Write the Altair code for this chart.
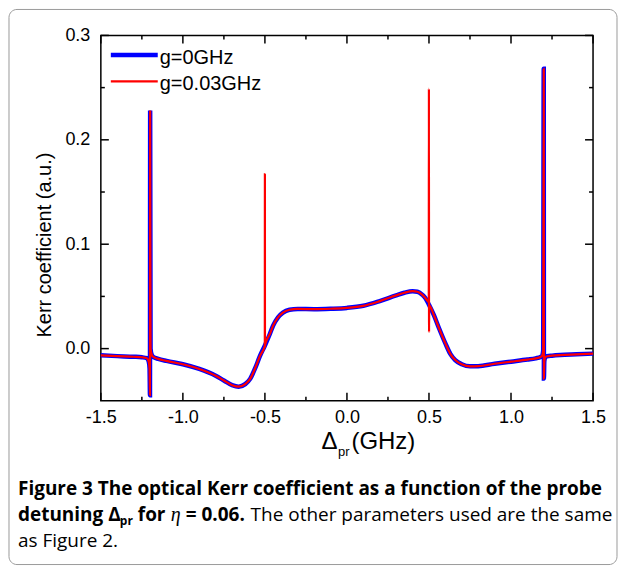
import altair as alt
import pandas as pd

# ---- data ----
# g = 0 GHz curve (Kerr coefficient vs probe detuning, GHz)
base_x = [-1.5, -1.4, -1.3, -1.25, -1.22, -1.208, -1.203, -1.2005, -1.1995, -1.197,
          -1.19, -1.18, -1.15, -1.1, -1.0, -0.9, -0.8, -0.75, -0.7, -0.66, -0.62,
          -0.59, -0.56, -0.53, -0.5, -0.47, -0.45, -0.42, -0.39, -0.35, -0.3, -0.2,
          -0.1, 0.0, 0.1, 0.2, 0.3, 0.35, 0.4, 0.43, 0.46, 0.48, 0.5, 0.53, 0.56,
          0.6, 0.63, 0.66, 0.7, 0.75, 0.8, 0.9, 1.0, 1.1, 1.15, 1.18, 1.19, 1.196,
          1.1995, 1.2005, 1.203, 1.21, 1.22, 1.25, 1.3, 1.4, 1.5]
base_y = [-0.0064, -0.0072, -0.0078, -0.0083, -0.0092, -0.0125, -0.019, -0.0446, 0.228, 0.0,
          -0.006, -0.008, -0.0098, -0.0118, -0.015, -0.0195, -0.026, -0.0305, -0.035, -0.0365, -0.034,
          -0.029, -0.019, -0.007, 0.003, 0.014, 0.022, 0.030, 0.0345, 0.0372, 0.0380, 0.0378,
          0.0382, 0.039, 0.041, 0.0455, 0.051, 0.0535, 0.055, 0.0545, 0.0515, 0.048, 0.042, 0.032, 0.020,
          0.005, -0.005, -0.011, -0.015, -0.017, -0.0168, -0.0145, -0.0125, -0.0105, -0.0093, -0.0080, -0.0068, -0.002,
          0.268, -0.0287, -0.012, -0.0080, -0.0073, -0.0068, -0.0062, -0.0055, -0.0048]

# extra narrow resonances that appear only for g = 0.03 GHz
red_extra_x = [-0.5006, -0.5001, -0.4996, -0.4990, 0.4988, 0.4996, 0.5004, 0.5014]
red_extra_y = [0.0028, 0.167, 0.0015, 0.0035, 0.0445, 0.249, 0.016, 0.0415]
red_centres = [-0.5, 0.5]

series_names = ["g=0GHz", "g=0.03GHz"]
series_colors = ["#0000ff", "#ff0000"]

x_major = [-1.5, -1.0, -0.5, 0.0, 0.5, 1.0, 1.5]
x_minor = [-1.25, -0.75, -0.25, 0.25, 0.75, 1.25]
y_major = [0.0, 0.1, 0.2, 0.3]
y_minor = [0.05, 0.15, 0.25]

# ---- tables ----
blue_df = pd.DataFrame({"x": base_x, "y": base_y})
keep = [(bx, by) for bx, by in zip(base_x, base_y)
        if all(abs(bx - c) > 0.003 for c in red_centres)]
red_pts = keep + list(zip(red_extra_x, red_extra_y))
red_df = pd.DataFrame(red_pts, columns=["x", "y"]).sort_values("x")

W, H = 493, 366
XS = alt.Scale(domain=[-1.5, 1.5], nice=False, zero=False)
YS = alt.Scale(domain=[-0.05, 0.3], nice=False, zero=False)
AF = "Liberation Sans"

x_axis = alt.Axis(values=x_major, ticks=False, domain=False, grid=False,
                  labelExpr="datum.value < 0 ? '-' + format(-datum.value, '.1f') : format(datum.value, '.1f')",
                  labelFont=AF, labelFontSize=18, labelColor="black", labelPadding=8,
                  labelFlush=False, labelOverlap=False, title=None)
y_axis = alt.Axis(values=y_major, format=".1f", ticks=False, domain=False, grid=False,
                  labelFont=AF, labelFontSize=18, labelColor="black", labelPadding=11,
                  labelOverlap=False, title=None)

XE = lambda f: alt.X(f, scale=XS, axis=x_axis)
YE = lambda f: alt.Y(f, scale=YS, axis=y_axis)

blue = alt.Chart(blue_df).mark_line(color=series_colors[0], strokeWidth=4.5,
                                    interpolate="monotone").encode(x=XE("x:Q"), y=YE("y:Q"))
red = alt.Chart(red_df).mark_line(color=series_colors[1], strokeWidth=2.2,
                                  interpolate="monotone").encode(x=XE("x:Q"), y=YE("y:Q"))


def xticks(vals, length):
    d = pd.DataFrame({"x": vals})
    b = alt.Chart(d).mark_rule(color="black", strokeWidth=1.5).encode(
        x=XE("x:Q"), y=alt.value(H), y2=alt.value(H - length))
    t = alt.Chart(d).mark_rule(color="black", strokeWidth=1.5).encode(
        x=XE("x:Q"), y=alt.value(0), y2=alt.value(length))
    return [b, t]


def yticks(vals, length):
    d = pd.DataFrame({"y": vals})
    l = alt.Chart(d).mark_rule(color="black", strokeWidth=1.5).encode(
        y=YE("y:Q"), x=alt.value(0), x2=alt.value(length))
    r = alt.Chart(d).mark_rule(color="black", strokeWidth=1.5).encode(
        y=YE("y:Q"), x=alt.value(W), x2=alt.value(W - length))
    return [l, r]


one = pd.DataFrame({"t": [""]})


def txt(text, x, y, size, font=AF, weight="normal", style="normal", angle=0, align="left"):
    return alt.Chart(pd.DataFrame({"t": [text]})).mark_text(
        align=align, baseline="alphabetic", font=font, fontSize=size,
        fontWeight=weight, fontStyle=style, color="black", angle=angle).encode(
        text="t:N", x=alt.value(x), y=alt.value(y))


def seg(x1, x2, y, color, width):
    return alt.Chart(one).mark_rule(color=color, strokeWidth=width).encode(
        x=alt.value(x1), x2=alt.value(x2), y=alt.value(y))


border = alt.Chart(one).mark_rect(fillOpacity=0, stroke="#9a9a9a", strokeWidth=1,
                                  cornerRadius=8).encode(
    x=alt.value(-92), x2=alt.value(517), y=alt.value(-26), y2=alt.value(530))

legend = [
    seg(10, 57, 19.5, series_colors[0], 4.5),
    seg(10, 57, 46, series_colors[1], 2.2),
    txt(series_names[0], 59, 28.5, 20),
    txt(series_names[1], 59, 55, 20),
]

ytitle = [txt("Kerr coefficient (a.u.)", -50, 210, 20, angle=270, align="center")]

xtitle = [
    txt("\u0394", 221, 414, 24),
    txt("pr", 237.5, 421, 13),
    txt("(GHz)", 251, 414, 24),
]

CF = "Open Sans"
caption = [
    txt("Figure 3 The optical Kerr coefficient as a function of the probe", -83, 460, 19, CF, "bold"),
    txt("detuning \u0394", -83, 486, 19, CF, "bold"),
    txt("pr", 19, 490, 12, CF, "bold"),
    txt("for", 37, 486, 19, CF, "bold"),
    txt("\u03b7", 70, 486, 20, "Liberation Serif", "normal", "italic"),
    txt("= 0.06.", 85, 486, 19, CF, "bold"),
    txt("The other parameters used are the same", 150, 486, 19, CF, "normal"),
    txt("as Figure 2.", -83, 512, 19, CF, "normal"),
]

layers = [border, blue, red] + xticks(x_major, 8) + xticks(x_minor, 4) \
    + yticks(y_major, 8) + yticks(y_minor, 4) + legend + ytitle + xtitle + caption

chart = alt.layer(*layers).properties(
    width=W, height=H, padding=0, background="white"
).configure_view(stroke="black", strokeWidth=1.5)

chart.save("out.html", embed_options={"renderer": "svg", "actions": False})
